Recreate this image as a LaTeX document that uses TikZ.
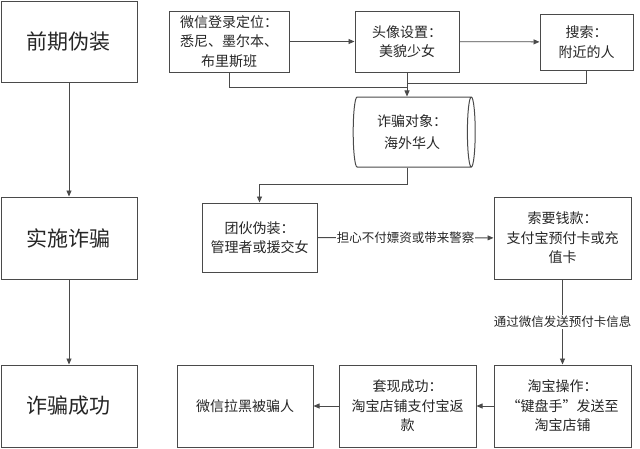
\documentclass[tikz,border=0pt]{standalone}
\usepackage{fontspec}
\newfontfamily\cjk{Noto Sans CJK SC}
\usepackage{tikz}
\usetikzlibrary{arrows.meta, shapes.geometric}
\definecolor{linegray}{HTML}{4A4A4A}
\definecolor{textgray}{HTML}{262626}
\tikzset{
	tri/.tip={Triangle[length=6pt, width=5pt]},
	% big stage boxes on the left
	stage/.style={draw=linegray, line width=1pt, text=textgray, minimum width=136pt, minimum height=81pt,
		font=\cjk\fontsize{21}{26}\selectfont},
	% small boxes of the flow
	stepbox/.style={draw=linegray, line width=1pt, text=textgray, align=center, inner sep=0pt,
		font=\cjk\fontsize{14}{19.5}\selectfont},
	link/.style={draw=linegray, line width=0.8pt},
	lbl/.style={fill=white, text=textgray, inner sep=1pt, font=\cjk\fontsize{12.5}{15}\selectfont},
}

\begin{document}
\begin{tikzpicture}[x=1pt, y=-1pt]
	\useasboundingbox (0,0) rectangle (640,448);

	% Stages
	\node[stage] (qq) at (69, 41.5) {前期伪装};
	\node[stage, minimum height=82pt] (sz) at (69, 238) {实施诈骗};
	\node[stage, minimum height=82pt] (cg) at (69, 406) {诈骗成功};

	% Disguise
	\node[stepbox, minimum width=120pt, minimum height=61pt] (wx) at (229, 41.5) {微信登录定位：\\悉尼、墨尔本、\\布里斯班};
	\node[stepbox, minimum width=104pt, minimum height=61pt] (tx) at (407, 41.5) {头像设置：\\美貌少女};
	\node[stepbox, minimum width=93pt, minimum height=56pt] (ss) at (586.5, 42) {搜索：\\附近的人};
	\node[stepbox, shape=cylinder, shape border rotate=0, aspect=0.22,
		minimum width=70pt, minimum height=122pt] (cyl) at (412, 132) {诈骗对象：\\[3pt]海外华人};

	% Fraud
	\node[stepbox, minimum width=115pt, minimum height=69pt] (tf) at (259.5, 237.5) {团伙伪装：\\管理者或援交女};
	\node[stepbox, minimum width=137pt, minimum height=82pt] (sy) at (562.5, 238) {索要钱款：\\支付宝预付卡或充\\值卡};

	% Success
	\node[stepbox, minimum width=137pt, minimum height=82pt] (tb) at (562.5, 406) {淘宝操作：\\“键盘手”发送至\\淘宝店铺};
	\node[stepbox, minimum width=137pt, minimum height=82pt] (tixian) at (407.5, 406) {套现成功：\\淘宝店铺支付宝返\\款};
	\node[stepbox, minimum width=136pt, minimum height=82pt] (lh) at (245, 406) {微信拉黑被骗人};

	% Connectors
	\draw[link, -tri] (qq) -- (sz);
	\draw[link, -tri] (sz) -- (cg);

	\draw[link, -tri] (wx) -- (tx);
	\draw[link, -tri] (tx) -- (ss);
	\coordinate (joinA) at (407, 87);
	\coordinate (joinB) at (407, 83);
	\draw[link] (wx.south) |- (joinA);
	\draw[link] (ss.south) |- (joinB);
	\draw[link, -tri] (tx.south) -- (tx.south |- cyl.north);

	\coordinate (bendA) at (407, 184);
	\draw[link, -tri] (bendA |- cyl.south) -- (bendA) -| (tf.north);
	\draw[link, -tri] (tf) -- node[lbl] {担心不付嫖资或带来警察} (sy);
	\draw[link, -tri] (sy) -- node[lbl] {通过微信发送预付卡信息} (tb);
	\draw[link, -tri] (tb) -- (tixian);
	\draw[link, -tri] (tixian) -- (lh);
\end{tikzpicture}
\end{document}
